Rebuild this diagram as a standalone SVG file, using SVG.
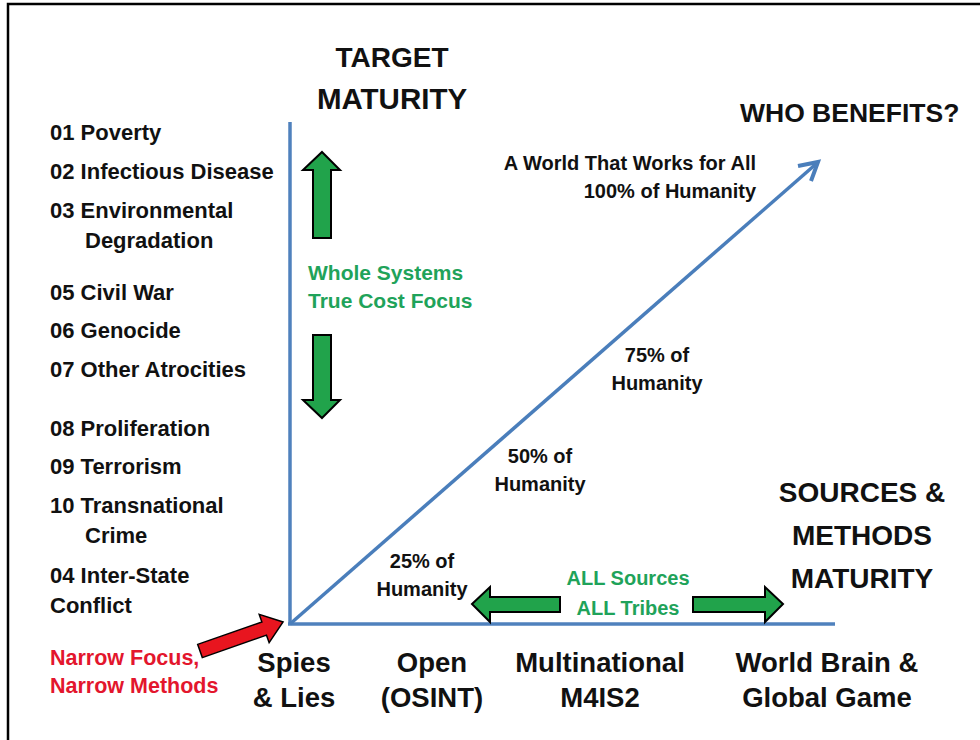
<svg xmlns="http://www.w3.org/2000/svg" width="980" height="740" viewBox="0 0 980 740">
<defs>
<style>
text{font-family:"Liberation Sans",Arial,sans-serif;font-weight:bold;fill:#111}
.head{font-size:28px}
.list{font-size:22px}
.pct{font-size:20px}
.green{fill:#1fa35a;font-size:20px}
.ws{font-size:21px}
.red{fill:#e3162d;font-size:21.5px}
.bottom{font-size:27.5px}
.mid{text-anchor:middle}
.axis{stroke:#4f81bd;stroke-width:3.5;fill:none}
.garrow{fill:#21a34b;stroke:#000;stroke-width:2;stroke-linejoin:miter}
</style>
</defs>
<rect x="0" y="0" width="980" height="740" fill="#fff"/>
<path d="M8,740 V4 H980" fill="none" stroke="#000" stroke-width="2.5"/>

<g id="axes">
<line class="axis" x1="290" y1="122" x2="290" y2="624"/>
<line class="axis" x1="288" y1="624" x2="835" y2="624"/>
</g>

<g id="connectors">
<line x1="290" y1="624" x2="816" y2="164" stroke="#4a7ebb" stroke-width="3.5"/>
<polyline points="798,166 818,162 811,181" fill="none" stroke="#4a7ebb" stroke-width="4" stroke-linejoin="miter"/>
<polygon class="garrow" points="322,152 340,170 331,170 331,238 313,238 313,170 303,170"/>
<polygon class="garrow" points="322,418 340,400 331,400 331,335 313,335 313,400 303,400"/>
<polygon class="garrow" points="472,604 490,587 490,597 560,597 560,612 490,612 490,622"/>
<polygon class="garrow" points="783,604 765,587 765,597 693,597 693,612 765,612 765,622"/>
<polygon transform="translate(200,651) rotate(-19.3)" points="0,-7 68,-7 68,-15 88,0 68,15 68,7 0,7" fill="#e8151f" stroke="#000" stroke-width="1.5"/>
</g>

<g id="target-maturity">
<text class="head mid" x="392" y="67">TARGET</text>
<text class="head mid" x="392" y="109" style="font-size:29.5px">MATURITY</text>
</g>

<g id="who-benefits">
<text class="head" x="740" y="122" style="font-size:26.5px">WHO BENEFITS?</text>
</g>

<g id="problems">
<text class="list" x="50" y="140">01 Poverty</text>
<text class="list" x="50" y="179">02 Infectious Disease</text>
<text class="list" x="50" y="218">03 Environmental</text>
<text class="list" x="85" y="248">Degradation</text>
<text class="list" x="50" y="300">05 Civil War</text>
<text class="list" x="50" y="338">06 Genocide</text>
<text class="list" x="50" y="377">07 Other Atrocities</text>
<text class="list" x="50" y="436">08 Proliferation</text>
<text class="list" x="50" y="474">09 Terrorism</text>
<text class="list" x="50" y="513">10 Transnational</text>
<text class="list" x="85" y="543">Crime</text>
<text class="list" x="50" y="583">04 Inter-State</text>
<text class="list" x="50" y="613">Conflict</text>
</g>

<g id="narrow">
<text class="red" x="50" y="665">Narrow Focus,</text>
<text class="red" x="50" y="693">Narrow Methods</text>
</g>

<g id="whole-systems">
<text class="green ws" x="308" y="280">Whole Systems</text>
<text class="green ws" x="308" y="308">True Cost Focus</text>
</g>

<g id="all-sources">
<text class="green mid" x="628" y="585">ALL Sources</text>
<text class="green mid" x="628" y="615">ALL Tribes</text>
</g>

<g id="pct100">
<text class="pct" x="756" y="170" text-anchor="end">A World That Works for All</text>
<text class="pct" x="756" y="198" text-anchor="end">100% of Humanity</text>
</g>
<g id="pct75">
<text class="pct mid" x="657" y="362">75% of</text>
<text class="pct mid" x="657" y="390">Humanity</text>
</g>
<g id="pct50">
<text class="pct mid" x="540" y="463">50% of</text>
<text class="pct mid" x="540" y="491">Humanity</text>
</g>
<g id="pct25">
<text class="pct mid" x="422" y="568">25% of</text>
<text class="pct mid" x="422" y="596">Humanity</text>
</g>

<g id="sources-methods">
<text class="head mid" x="862" y="502">SOURCES &amp;</text>
<text class="head mid" x="862" y="545">METHODS</text>
<text class="head mid" x="862" y="588">MATURITY</text>
</g>

<g id="spies">
<text class="bottom mid" x="294" y="672">Spies</text>
<text class="bottom mid" x="294" y="707">&amp; Lies</text>
</g>
<g id="open">
<text class="bottom mid" x="432" y="672">Open</text>
<text class="bottom mid" x="432" y="707">(OSINT)</text>
</g>
<g id="multinational">
<text class="bottom mid" x="600" y="672">Multinational</text>
<text class="bottom mid" x="600" y="707">M4IS2</text>
</g>
<g id="world-brain">
<text class="bottom mid" x="827" y="672">World Brain &amp;</text>
<text class="bottom mid" x="827" y="707">Global Game</text>
</g>
</svg>
